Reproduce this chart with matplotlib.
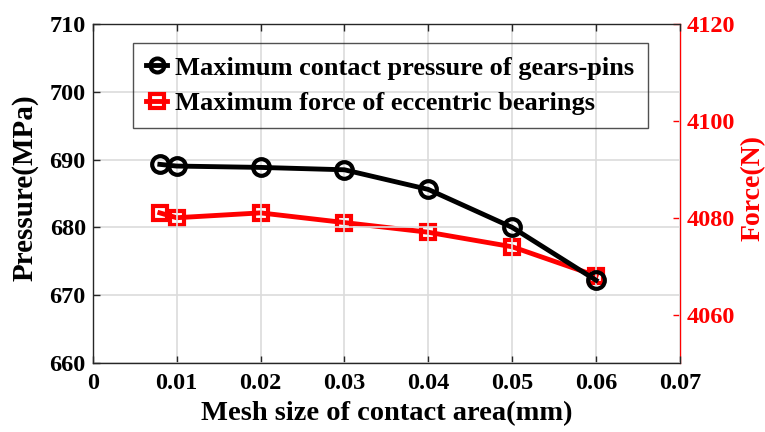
import matplotlib
matplotlib.use("Agg")
import matplotlib.pyplot as plt

# mesh size (mm) vs. max pressure and bearing force
mesh_size = [0.008, 0.01, 0.02, 0.03, 0.04, 0.05, 0.06]
pressure = [689.3, 689.05, 688.85, 688.5, 685.6, 680.0, 672.2]
force = [4081, 4080, 4081, 4079, 4077, 4074, 4068]

x_ticks = [0, 0.01, 0.02, 0.03, 0.04, 0.05, 0.06, 0.07]
x_labels = ["0", "0.01", "0.02", "0.03", "0.04", "0.05", "0.06", "0.07"]
p_ticks = [660, 670, 680, 690, 700, 710]
f_ticks = [4060, 4080, 4100, 4120]

plt.rcParams['font.family'] = ['Liberation Serif', 'DejaVu Serif']
plt.rcParams['font.weight'] = 'bold'

fig = plt.figure(figsize=(7.65, 4.32), dpi=100)
ax = fig.add_axes([0.1212, 0.1597, 0.7677, 0.7847])
ax2 = ax.twinx()

ax.set_zorder(ax2.get_zorder() + 1)
ax.patch.set_visible(False)

l1, = ax.plot(mesh_size, pressure, color='black', lw=3.5, marker='o', ms=12,
              mfc='none', mec='black', mew=3, zorder=3)
l2, = ax2.plot(mesh_size, force, color='red', lw=3.5, marker='s', ms=10,
               mfc='none', mec='red', mew=3, zorder=3)

ax.set_xlim(0, 0.07)
ax.set_ylim(660, 710)
ax2.set_ylim(4050, 4120)
ax.set_xticks(x_ticks)
ax.set_xticklabels(x_labels)
ax.set_yticks(p_ticks)
ax2.set_yticks(f_ticks)

ax.grid(True, color='#dcdcdc', lw=1.2)
ax.set_axisbelow(True)

ax.tick_params(axis='both', direction='in', length=5, width=1, labelsize=17.5,
               colors='#262626', labelcolor='black', top=True, right=False)
ax.tick_params(axis='x', pad=7)
ax.tick_params(axis='y', pad=5)
ax2.tick_params(axis='y', direction='in', length=5, width=1, labelsize=17.5,
                colors='red', labelcolor='red', pad=5)

for side in ['left', 'bottom', 'top']:
    ax.spines[side].set_color('#262626')
    ax.spines[side].set_linewidth(1)
ax.spines['right'].set_visible(False)
ax2.spines['right'].set_color('red')
ax2.spines['right'].set_linewidth(1)
for side in ['left', 'bottom', 'top']:
    ax2.spines[side].set_visible(False)

ax.set_xlabel('Mesh size of contact area(mm)', fontsize=20.5, fontweight='bold', labelpad=5)
ax.set_ylabel('Pressure(MPa)', fontsize=21, fontweight='bold')
ax2.set_ylabel('Force(N)', fontsize=20, fontweight='bold', color='red')
ax.yaxis.set_label_coords(-0.093, 0.516)
ax2.yaxis.set_label_coords(1.1035, 0.516)

leg = ax.legend([l1, l2], ['Maximum contact pressure of gears-pins',
                           'Maximum force of eccentric bearings'],
                loc='upper left', bbox_to_anchor=(0.0686, 0.944), borderaxespad=0,
                fontsize=19, handlelength=0.8, handletextpad=0.3, borderpad=0.5,
                labelspacing=0.44, fancybox=False, frameon=True)
leg.get_frame().set_facecolor('none')
leg.get_frame().set_edgecolor('#262626')
leg.get_frame().set_linewidth(1)
for h in leg.legend_handles:
    h.set_markersize(10)
    h.set_markeredgewidth(3)

fig.savefig('out.png', dpi=100)
